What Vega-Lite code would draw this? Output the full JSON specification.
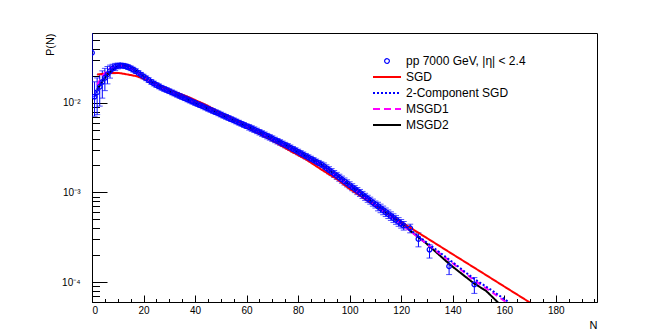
{
  "$schema": "https://vega.github.io/schema/vega-lite/v6.json",
  "width": 505,
  "height": 269,
  "autosize": {"type": "none"},
  "padding": {"left": 92, "top": 33, "right": 67, "bottom": 34},
  "background": "white",
  "config": {
    "view": {"stroke": "black", "strokeWidth": 1},
    "font": "Liberation Sans",
    "axis": {"grid": false, "domainColor": "black", "tickColor": "black", "labelColor": "black", "titleColor": "black", "labelFont": "Liberation Sans", "titleFont": "Liberation Sans", "titleFontWeight": "normal"}
  },
  "datasets": {
    "pts": [
      {"N": 0, "P": 0.0363, "lo": 0.0118, "hi": 0.1},
      {"N": 1, "P": 0.01175, "lo": 0.0071, "hi": 0.0172},
      {"N": 2, "P": 0.01318, "lo": 0.0074, "hi": 0.019},
      {"N": 3, "P": 0.01514, "lo": 0.0092, "hi": 0.0208},
      {"N": 4, "P": 0.01718, "lo": 0.0113, "hi": 0.0228},
      {"N": 5, "P": 0.01905, "lo": 0.0137, "hi": 0.0243},
      {"N": 6, "P": 0.02089, "lo": 0.0163, "hi": 0.0255},
      {"N": 7, "P": 0.02265, "lo": 0.0189, "hi": 0.0264},
      {"N": 8, "P": 0.0241, "lo": 0.0212, "hi": 0.027},
      {"N": 9, "P": 0.02524, "lo": 0.0229, "hi": 0.0276},
      {"N": 10, "P": 0.02588, "lo": 0.024, "hi": 0.0278},
      {"N": 11, "P": 0.02618, "lo": 0.02461, "hi": 0.02775},
      {"N": 12, "P": 0.02606, "lo": 0.0245, "hi": 0.02762},
      {"N": 13, "P": 0.0257, "lo": 0.02416, "hi": 0.02724},
      {"N": 14, "P": 0.02512, "lo": 0.02361, "hi": 0.02663},
      {"N": 15, "P": 0.02438, "lo": 0.02292, "hi": 0.02584},
      {"N": 16, "P": 0.02355, "lo": 0.02214, "hi": 0.02496},
      {"N": 17, "P": 0.02265, "lo": 0.02129, "hi": 0.02401},
      {"N": 18, "P": 0.02163, "lo": 0.02033, "hi": 0.02293},
      {"N": 19, "P": 0.02065, "lo": 0.01941, "hi": 0.02189},
      {"N": 20, "P": 0.01972, "lo": 0.01854, "hi": 0.0209},
      {"N": 21, "P": 0.01884, "lo": 0.01771, "hi": 0.01997},
      {"N": 22, "P": 0.01799, "lo": 0.01691, "hi": 0.01907},
      {"N": 23, "P": 0.01718, "lo": 0.01615, "hi": 0.01821},
      {"N": 24, "P": 0.01648, "lo": 0.01549, "hi": 0.01747},
      {"N": 25, "P": 0.01585, "lo": 0.0149, "hi": 0.0168},
      {"N": 26, "P": 0.01531, "lo": 0.01439, "hi": 0.01623},
      {"N": 27, "P": 0.01479, "lo": 0.0139, "hi": 0.01568},
      {"N": 28, "P": 0.01435, "lo": 0.01349, "hi": 0.01521},
      {"N": 29, "P": 0.01393, "lo": 0.01309, "hi": 0.01477},
      {"N": 30, "P": 0.01352, "lo": 0.01271, "hi": 0.01433},
      {"N": 31, "P": 0.01312, "lo": 0.01233, "hi": 0.01391},
      {"N": 32, "P": 0.01274, "lo": 0.01198, "hi": 0.0135},
      {"N": 33, "P": 0.01236, "lo": 0.01162, "hi": 0.0131},
      {"N": 34, "P": 0.012, "lo": 0.01128, "hi": 0.01272},
      {"N": 35, "P": 0.01164, "lo": 0.01094, "hi": 0.01234},
      {"N": 36, "P": 0.0113, "lo": 0.01062, "hi": 0.01198},
      {"N": 37, "P": 0.01096, "lo": 0.0103, "hi": 0.01162},
      {"N": 38, "P": 0.01064, "lo": 0.01, "hi": 0.01128},
      {"N": 39, "P": 0.01033, "lo": 0.00971, "hi": 0.01095},
      {"N": 40, "P": 0.01002, "lo": 0.00942, "hi": 0.01062},
      {"N": 41, "P": 0.009727, "lo": 0.009143, "hi": 0.01031},
      {"N": 42, "P": 0.009441, "lo": 0.008875, "hi": 0.01001},
      {"N": 43, "P": 0.009162, "lo": 0.008612, "hi": 0.009712},
      {"N": 44, "P": 0.008892, "lo": 0.008358, "hi": 0.009426},
      {"N": 45, "P": 0.00863, "lo": 0.008112, "hi": 0.009148},
      {"N": 46, "P": 0.008375, "lo": 0.007873, "hi": 0.008878},
      {"N": 47, "P": 0.008128, "lo": 0.00764, "hi": 0.008616},
      {"N": 48, "P": 0.007889, "lo": 0.007416, "hi": 0.008362},
      {"N": 49, "P": 0.007656, "lo": 0.007197, "hi": 0.008115},
      {"N": 50, "P": 0.00743, "lo": 0.006984, "hi": 0.007876},
      {"N": 51, "P": 0.007211, "lo": 0.006778, "hi": 0.007644},
      {"N": 52, "P": 0.006998, "lo": 0.006578, "hi": 0.007418},
      {"N": 53, "P": 0.006792, "lo": 0.006384, "hi": 0.0072},
      {"N": 54, "P": 0.006592, "lo": 0.006196, "hi": 0.006988},
      {"N": 55, "P": 0.006397, "lo": 0.006013, "hi": 0.006781},
      {"N": 56, "P": 0.006209, "lo": 0.005836, "hi": 0.006582},
      {"N": 57, "P": 0.006026, "lo": 0.005664, "hi": 0.006388},
      {"N": 58, "P": 0.005848, "lo": 0.005497, "hi": 0.006199},
      {"N": 59, "P": 0.005675, "lo": 0.005335, "hi": 0.006016},
      {"N": 60, "P": 0.005508, "lo": 0.005178, "hi": 0.005838},
      {"N": 61, "P": 0.005346, "lo": 0.004972, "hi": 0.00572},
      {"N": 62, "P": 0.005188, "lo": 0.004825, "hi": 0.005551},
      {"N": 63, "P": 0.005035, "lo": 0.004683, "hi": 0.005387},
      {"N": 64, "P": 0.004875, "lo": 0.004534, "hi": 0.005216},
      {"N": 65, "P": 0.00471, "lo": 0.00438, "hi": 0.00504},
      {"N": 66, "P": 0.00456, "lo": 0.004241, "hi": 0.004879},
      {"N": 67, "P": 0.004416, "lo": 0.004107, "hi": 0.004725},
      {"N": 68, "P": 0.004266, "lo": 0.003967, "hi": 0.004565},
      {"N": 69, "P": 0.00413, "lo": 0.003841, "hi": 0.004419},
      {"N": 70, "P": 0.003999, "lo": 0.003719, "hi": 0.004279},
      {"N": 71, "P": 0.003864, "lo": 0.003594, "hi": 0.004134},
      {"N": 72, "P": 0.003741, "lo": 0.003479, "hi": 0.004003},
      {"N": 73, "P": 0.003622, "lo": 0.003368, "hi": 0.003876},
      {"N": 74, "P": 0.003499, "lo": 0.003254, "hi": 0.003744},
      {"N": 75, "P": 0.003388, "lo": 0.003151, "hi": 0.003625},
      {"N": 76, "P": 0.003281, "lo": 0.003051, "hi": 0.003511},
      {"N": 77, "P": 0.003162, "lo": 0.002941, "hi": 0.003383},
      {"N": 78, "P": 0.003048, "lo": 0.002835, "hi": 0.003261},
      {"N": 79, "P": 0.002944, "lo": 0.002738, "hi": 0.00315},
      {"N": 80, "P": 0.002838, "lo": 0.002639, "hi": 0.003037},
      {"N": 81, "P": 0.002735, "lo": 0.002544, "hi": 0.002926},
      {"N": 82, "P": 0.002642, "lo": 0.002457, "hi": 0.002827},
      {"N": 83, "P": 0.002547, "lo": 0.002369, "hi": 0.002725},
      {"N": 84, "P": 0.002455, "lo": 0.002283, "hi": 0.002627},
      {"N": 85, "P": 0.002371, "lo": 0.002205, "hi": 0.002537},
      {"N": 86, "P": 0.002286, "lo": 0.002126, "hi": 0.002446},
      {"N": 87, "P": 0.002203, "lo": 0.002049, "hi": 0.002357},
      {"N": 88, "P": 0.002128, "lo": 0.001979, "hi": 0.002277},
      {"N": 89, "P": 0.002051, "lo": 0.001907, "hi": 0.002195},
      {"N": 90, "P": 0.001959, "lo": 0.001783, "hi": 0.002135},
      {"N": 91, "P": 0.001866, "lo": 0.001698, "hi": 0.002034},
      {"N": 92, "P": 0.001778, "lo": 0.001618, "hi": 0.001938},
      {"N": 93, "P": 0.001694, "lo": 0.001542, "hi": 0.001846},
      {"N": 94, "P": 0.001614, "lo": 0.001469, "hi": 0.001759},
      {"N": 95, "P": 0.001538, "lo": 0.0014, "hi": 0.001676},
      {"N": 96, "P": 0.001466, "lo": 0.001334, "hi": 0.001598},
      {"N": 97, "P": 0.001396, "lo": 0.00127, "hi": 0.001522},
      {"N": 98, "P": 0.00133, "lo": 0.00121, "hi": 0.00145},
      {"N": 99, "P": 0.001268, "lo": 0.001154, "hi": 0.001382},
      {"N": 100, "P": 0.001208, "lo": 0.001099, "hi": 0.001317},
      {"N": 101, "P": 0.001148, "lo": 0.001045, "hi": 0.001251},
      {"N": 102, "P": 0.001094, "lo": 0.000996, "hi": 0.001192},
      {"N": 103, "P": 0.00104, "lo": 0.000946, "hi": 0.001134},
      {"N": 104, "P": 0.000991, "lo": 0.000902, "hi": 0.00108},
      {"N": 105, "P": 0.000942, "lo": 0.000857, "hi": 0.001027},
      {"N": 106, "P": 0.000897, "lo": 0.000816, "hi": 0.000978},
      {"N": 107, "P": 0.000853, "lo": 0.000776, "hi": 0.00093},
      {"N": 108, "P": 0.000813, "lo": 0.00074, "hi": 0.000886},
      {"N": 109, "P": 0.000773, "lo": 0.000703, "hi": 0.000843},
      {"N": 110, "P": 0.000736, "lo": 0.00067, "hi": 0.000802},
      {"N": 111, "P": 0.0007, "lo": 0.000623, "hi": 0.000777},
      {"N": 112, "P": 0.000667, "lo": 0.000594, "hi": 0.00074},
      {"N": 113, "P": 0.000634, "lo": 0.000564, "hi": 0.000704},
      {"N": 114, "P": 0.000604, "lo": 0.000538, "hi": 0.00067},
      {"N": 115, "P": 0.000574, "lo": 0.000511, "hi": 0.000637},
      {"N": 116, "P": 0.000547, "lo": 0.000487, "hi": 0.000607},
      {"N": 117, "P": 0.00052, "lo": 0.000463, "hi": 0.000577},
      {"N": 118, "P": 0.000496, "lo": 0.000441, "hi": 0.000551},
      {"N": 119, "P": 0.000471, "lo": 0.000419, "hi": 0.000523},
      {"N": 120, "P": 0.000449, "lo": 0.0004, "hi": 0.000498},
      {"N": 121, "P": 0.000427, "lo": 0.00038, "hi": 0.000474},
      {"N": 123.5, "P": 0.000398, "lo": 0.000354, "hi": 0.000442},
      {"N": 126.7, "P": 0.000303, "lo": 0.000247, "hi": 0.000353},
      {"N": 131, "P": 0.00023, "lo": 0.000185, "hi": 0.00026},
      {"N": 138.6, "P": 0.00015, "lo": 0.000121, "hi": 0.00017},
      {"N": 148.4, "P": 0.000094, "lo": 0.0000746, "hi": 0.000112}
    ],
    "curves": [
      {"m": "SGD", "N": 2, "P": 0.0207},
      {"m": "SGD", "N": 5, "P": 0.02128},
      {"m": "SGD", "N": 8, "P": 0.02158},
      {"m": "SGD", "N": 11, "P": 0.02148},
      {"m": "SGD", "N": 14, "P": 0.0207},
      {"m": "SGD", "N": 17, "P": 0.01995},
      {"m": "SGD", "N": 19, "P": 0.01905},
      {"m": "SGD", "N": 22, "P": 0.0177},
      {"m": "SGD", "N": 25, "P": 0.01622},
      {"m": "SGD", "N": 28, "P": 0.01479},
      {"m": "SGD", "N": 32, "P": 0.01324},
      {"m": "SGD", "N": 37, "P": 0.01175},
      {"m": "SGD", "N": 44, "P": 0.00955},
      {"m": "SGD", "N": 50, "P": 0.007674},
      {"m": "SGD", "N": 57, "P": 0.006166},
      {"m": "SGD", "N": 63, "P": 0.00482},
      {"m": "SGD", "N": 70, "P": 0.003802},
      {"m": "SGD", "N": 76, "P": 0.003013},
      {"m": "SGD", "N": 83, "P": 0.002344},
      {"m": "SGD", "N": 89, "P": 0.001803},
      {"m": "SGD", "N": 95, "P": 0.001413},
      {"m": "SGD", "N": 100, "P": 0.001096},
      {"m": "SGD", "N": 110, "P": 0.000708},
      {"m": "SGD", "N": 120, "P": 0.000468},
      {"m": "SGD", "N": 130, "P": 0.000309},
      {"m": "SGD", "N": 140, "P": 0.000204},
      {"m": "SGD", "N": 150, "P": 0.000135},
      {"m": "SGD", "N": 160, "P": 0.0000891},
      {"m": "SGD", "N": 170, "P": 0.0000589},
      {"m": "MSGD2", "N": 2, "P": 0.01406},
      {"m": "MSGD2", "N": 4, "P": 0.01738},
      {"m": "MSGD2", "N": 6, "P": 0.02065},
      {"m": "MSGD2", "N": 8, "P": 0.02355},
      {"m": "MSGD2", "N": 10, "P": 0.02553},
      {"m": "MSGD2", "N": 12, "P": 0.02618},
      {"m": "MSGD2", "N": 14, "P": 0.02547},
      {"m": "MSGD2", "N": 16, "P": 0.02388},
      {"m": "MSGD2", "N": 18, "P": 0.02178},
      {"m": "MSGD2", "N": 20, "P": 0.01986},
      {"m": "MSGD2", "N": 24, "P": 0.01652},
      {"m": "MSGD2", "N": 28, "P": 0.01429},
      {"m": "MSGD2", "N": 32, "P": 0.01268},
      {"m": "MSGD2", "N": 37, "P": 0.01096},
      {"m": "MSGD2", "N": 44, "P": 0.008892},
      {"m": "MSGD2", "N": 50, "P": 0.00743},
      {"m": "MSGD2", "N": 57, "P": 0.006026},
      {"m": "MSGD2", "N": 63, "P": 0.005035},
      {"m": "MSGD2", "N": 70, "P": 0.003999},
      {"m": "MSGD2", "N": 76, "P": 0.003281},
      {"m": "MSGD2", "N": 83, "P": 0.002547},
      {"m": "MSGD2", "N": 89, "P": 0.002051},
      {"m": "MSGD2", "N": 95, "P": 0.001538},
      {"m": "MSGD2", "N": 100, "P": 0.001208},
      {"m": "MSGD2", "N": 110, "P": 0.000736},
      {"m": "MSGD2", "N": 120, "P": 0.000449},
      {"m": "MSGD2", "N": 130, "P": 0.000266},
      {"m": "MSGD2", "N": 139, "P": 0.000156},
      {"m": "MSGD2", "N": 148, "P": 0.0000977},
      {"m": "MSGD2", "N": 153, "P": 0.0000794},
      {"m": "MSGD2", "N": 158, "P": 0.0000575},
      {"m": "MSGD1", "N": 2, "P": 0.01585},
      {"m": "MSGD1", "N": 4, "P": 0.01995},
      {"m": "MSGD1", "N": 6, "P": 0.02317},
      {"m": "MSGD1", "N": 8, "P": 0.02512},
      {"m": "MSGD1", "N": 10, "P": 0.02582},
      {"m": "MSGD1", "N": 12, "P": 0.0257},
      {"m": "MSGD1", "N": 14, "P": 0.02495},
      {"m": "MSGD1", "N": 16, "P": 0.02344},
      {"m": "MSGD1", "N": 18, "P": 0.02153},
      {"m": "MSGD1", "N": 20, "P": 0.01968},
      {"m": "MSGD1", "N": 24, "P": 0.01644},
      {"m": "MSGD1", "N": 28, "P": 0.01429},
      {"m": "MSGD1", "N": 32, "P": 0.01268},
      {"m": "MSGD1", "N": 37, "P": 0.01094},
      {"m": "MSGD1", "N": 44, "P": 0.00885},
      {"m": "MSGD1", "N": 50, "P": 0.0074},
      {"m": "MSGD1", "N": 57, "P": 0.005984},
      {"m": "MSGD1", "N": 63, "P": 0.004989},
      {"m": "MSGD1", "N": 70, "P": 0.003954},
      {"m": "MSGD1", "N": 76, "P": 0.003236},
      {"m": "MSGD1", "N": 83, "P": 0.002512},
      {"m": "MSGD1", "N": 89, "P": 0.002018},
      {"m": "MSGD1", "N": 95, "P": 0.001514},
      {"m": "MSGD1", "N": 100, "P": 0.001189},
      {"m": "MSGD1", "N": 110, "P": 0.000724},
      {"m": "MSGD1", "N": 120, "P": 0.000442},
      {"m": "MSGD1", "N": 130, "P": 0.000266},
      {"m": "MSGD1", "N": 140, "P": 0.000162},
      {"m": "MSGD1", "N": 148, "P": 0.000106},
      {"m": "MSGD1", "N": 155, "P": 0.0000776},
      {"m": "MSGD1", "N": 161, "P": 0.0000589},
      {"m": "2-Component SGD", "N": 1, "P": 0.01175},
      {"m": "2-Component SGD", "N": 2, "P": 0.01365},
      {"m": "2-Component SGD", "N": 4, "P": 0.0177},
      {"m": "2-Component SGD", "N": 6, "P": 0.02128},
      {"m": "2-Component SGD", "N": 8, "P": 0.0241},
      {"m": "2-Component SGD", "N": 10, "P": 0.02582},
      {"m": "2-Component SGD", "N": 12, "P": 0.02624},
      {"m": "2-Component SGD", "N": 14, "P": 0.02529},
      {"m": "2-Component SGD", "N": 16, "P": 0.0236},
      {"m": "2-Component SGD", "N": 18, "P": 0.02163},
      {"m": "2-Component SGD", "N": 20, "P": 0.01972},
      {"m": "2-Component SGD", "N": 24, "P": 0.01648},
      {"m": "2-Component SGD", "N": 28, "P": 0.01435},
      {"m": "2-Component SGD", "N": 32, "P": 0.01274},
      {"m": "2-Component SGD", "N": 37, "P": 0.01096},
      {"m": "2-Component SGD", "N": 44, "P": 0.008892},
      {"m": "2-Component SGD", "N": 50, "P": 0.00743},
      {"m": "2-Component SGD", "N": 57, "P": 0.006026},
      {"m": "2-Component SGD", "N": 63, "P": 0.005035},
      {"m": "2-Component SGD", "N": 70, "P": 0.003999},
      {"m": "2-Component SGD", "N": 76, "P": 0.003281},
      {"m": "2-Component SGD", "N": 83, "P": 0.002547},
      {"m": "2-Component SGD", "N": 89, "P": 0.002051},
      {"m": "2-Component SGD", "N": 95, "P": 0.001549},
      {"m": "2-Component SGD", "N": 100, "P": 0.001216},
      {"m": "2-Component SGD", "N": 110, "P": 0.000745},
      {"m": "2-Component SGD", "N": 120, "P": 0.000457},
      {"m": "2-Component SGD", "N": 130, "P": 0.000275},
      {"m": "2-Component SGD", "N": 140, "P": 0.000166},
      {"m": "2-Component SGD", "N": 148, "P": 0.00011},
      {"m": "2-Component SGD", "N": 155, "P": 0.0000813},
      {"m": "2-Component SGD", "N": 162, "P": 0.0000589}
    ]
  },
  "resolve": {"axis": {"x": "independent", "y": "independent"}},
  "layer": [
    {
      "data": {"name": "pts"},
      "mark": {"type": "rule", "color": "#0000ff", "strokeWidth": 1, "clip": true},
      "encoding": {
        "x": {"field": "N", "type": "quantitative", "scale": {"domain": [0, 196], "nice": false, "zero": false},
          "axis": {"orient": "bottom", "values": [0, 20, 40, 60, 80, 100, 120, 140, 160, 180], "tickSize": -7, "labelPadding": 10, "labelFontSize": 10, "domain": true,
            "title": "N", "titleFontSize": 11, "titleX": 505, "titleY": 26, "titleAlign": "right", "titleBaseline": "alphabetic"}},
        "y": {"field": "lo", "type": "quantitative", "scale": {"type": "log", "domain": [0.0000598, 0.0603], "nice": false},
          "axis": {"orient": "left", "values": [0.0001, 0.001, 0.01], "tickSize": -15, "labelPadding": 27, "labelFontSize": 10,
            "labelExpr": "datum.value < 0.0002 ? '10⁻⁴' : datum.value < 0.002 ? '10⁻³' : '10⁻²'",
            "title": "P(N)", "titleFontSize": 11, "titleAngle": 270, "titleX": -39, "titleY": 0, "titleAlign": "right", "titleBaseline": "alphabetic"}},
        "y2": {"field": "hi"}
      }
    },
    {
      "data": {"name": "pts"},
      "mark": {"type": "tick", "orient": "horizontal", "color": "#0000ff", "size": 6, "thickness": 1, "clip": true},
      "encoding": {
        "x": {"field": "N", "type": "quantitative", "axis": null},
        "y": {"field": "lo", "type": "quantitative", "axis": null}
      }
    },
    {
      "data": {"name": "pts"},
      "mark": {"type": "tick", "orient": "horizontal", "color": "#0000ff", "size": 6, "thickness": 1, "clip": true},
      "encoding": {
        "x": {"field": "N", "type": "quantitative", "axis": null},
        "y": {"field": "hi", "type": "quantitative", "axis": null}
      }
    },
    {
      "data": {"name": "curves"},
      "mark": {"type": "line", "strokeWidth": 2, "clip": true},
      "encoding": {
        "x": {"field": "N", "type": "quantitative", "scale": {"domain": [0, 196], "nice": false, "zero": false}, "axis": null},
        "y": {"field": "P", "type": "quantitative", "scale": {"type": "log", "domain": [0.0000598, 0.0603], "nice": false}, "axis": null},
        "color": {"field": "m", "type": "nominal",
          "scale": {"domain": ["pp 7000 GeV, |η| < 2.4", "SGD", "2-Component SGD", "MSGD1", "MSGD2"], "range": ["#0000ff", "#ff0000", "#0000ff", "#ff00ff", "#000000"]},
          "legend": {
            "orient": "none", "legendX": 289, "legendY": 22, "title": null, "padding": 0,
            "labelFont": "Liberation Sans", "labelFontSize": 12, "labelColor": "black", "labelLimit": 400, "labelOffset": 13,
            "symbolType": "stroke", "symbolStrokeWidth": 2, "symbolSize": 784, "rowPadding": 4,
            "encode": {"symbols": {"update": {
              "shape": {"signal": "datum.value === 'pp 7000 GeV, |η| < 2.4' ? 'circle' : 'stroke'"},
              "size": {"signal": "datum.value === 'pp 7000 GeV, |η| < 2.4' ? 22 : 784"},
              "strokeWidth": {"signal": "datum.value === 'pp 7000 GeV, |η| < 2.4' ? 1.2 : 2"},
              "strokeDash": {"signal": "datum.value === '2-Component SGD' ? [2, 2] : datum.value === 'MSGD1' ? [7, 4] : [1, 0]"},
              "fill": {"value": "transparent"}
            }}}
          }
        },
        "strokeDash": {"field": "m", "type": "nominal", "scale": {"domain": ["SGD", "2-Component SGD", "MSGD1", "MSGD2"], "range": [[1, 0], [2, 2], [6, 4], [1, 0]]}, "legend": null}
      }
    },
    {
      "data": {"name": "pts"},
      "mark": {"type": "point", "shape": "circle", "filled": false, "size": 22, "strokeWidth": 1.2, "opacity": 1, "clip": true},
      "encoding": {
        "x": {"field": "N", "type": "quantitative",
          "axis": {"orient": "bottom", "values": [5, 10, 15, 25, 30, 35, 45, 50, 55, 65, 70, 75, 85, 90, 95, 105, 110, 115, 125, 130, 135, 145, 150, 155, 165, 170, 175, 185, 190, 195], "tickSize": -3.5, "labels": false, "domain": false, "title": null}},
        "y": {"field": "P", "type": "quantitative",
          "axis": {"orient": "left", "values": [0.00007, 0.00008, 0.00009, 0.0002, 0.0003, 0.0004, 0.0005, 0.0006, 0.0007, 0.0008, 0.0009, 0.002, 0.003, 0.004, 0.005, 0.006, 0.007, 0.008, 0.009, 0.02, 0.03, 0.04, 0.05], "tickSize": -7.5, "labels": false, "domain": false, "title": null}},
        "color": {"datum": "pp 7000 GeV, |η| < 2.4", "type": "nominal"}
      }
    }
  ]
}
